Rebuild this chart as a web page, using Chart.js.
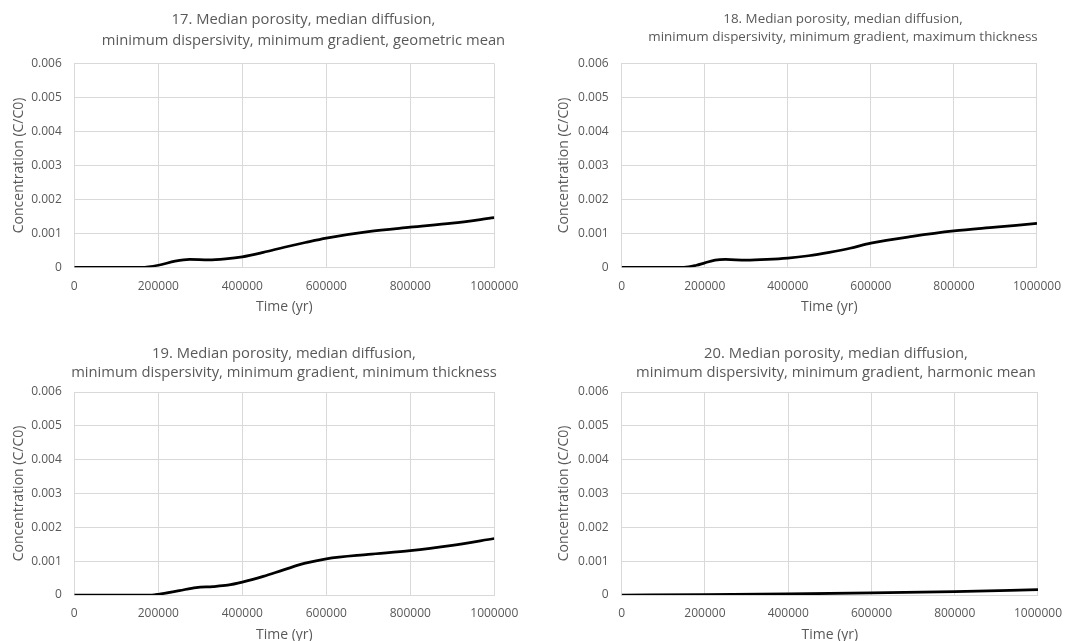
<!DOCTYPE html>
<html>
<head>
<meta charset="utf-8">
<script src="https://cdn.jsdelivr.net/npm/chart.js@4.4.1/dist/chart.umd.min.js"></script>
<style>
  html, body { margin: 0; padding: 0; background: #fff; overflow: hidden; }
  body { width: 1066px; height: 641px; position: relative; }
  canvas { position: absolute; }
</style>
</head>
<body>
<canvas id="c17" width="533" height="320" style="left:0;top:0"></canvas>
<canvas id="c18" width="540" height="320" style="left:533px;top:0"></canvas>
<canvas id="c19" width="533" height="330" style="left:0;top:320px"></canvas>
<canvas id="c20" width="540" height="330" style="left:533px;top:320px"></canvas>
<script>
// Data (time in years, concentration C/C0)
const time17 = [0, 160000, 200000, 240000, 275000, 320000, 360000, 400000, 450000, 500000, 550000, 600000, 700000, 800000, 900000, 1000000];
const conc17 = [0, 0, 0.00006, 0.00018, 0.00023, 0.00022, 0.00025, 0.00031, 0.00044, 0.00059, 0.00073, 0.00086, 0.00105, 0.00118, 0.0013, 0.00146];

const time18 = [0, 150000, 180000, 200000, 225000, 250000, 300000, 350000, 400000, 450000, 500000, 550000, 600000, 700000, 800000, 900000, 1000000];
const conc18 = [0, 0, 0.00006, 0.00013, 0.00021, 0.00023, 0.00021, 0.00023, 0.00027, 0.00034, 0.00044, 0.00056, 0.00071, 0.00091, 0.00107, 0.00118, 0.00129];

const time19 = [0, 185000, 200000, 250000, 290000, 330000, 365000, 400000, 450000, 500000, 550000, 600000, 700000, 800000, 900000, 1000000];
const conc19 = [0, 0, 0.00002, 0.00013, 0.00022, 0.00025, 0.00029, 0.00038, 0.00055, 0.00075, 0.00094, 0.00107, 0.0012, 0.00131, 0.00147, 0.00167];

const time20 = [0, 200000, 400000, 600000, 800000, 1000000];
const conc20 = [0, 0.00001, 0.00003, 0.00006, 0.0001, 0.00016];

// Axis ticks
const xTickValues = [0, 200000, 400000, 600000, 800000, 1000000];
const xTickLabels = ['0', '200000', '400000', '600000', '800000', '1000000'];
const yTickValues = [0, 0.001, 0.002, 0.003, 0.004, 0.005, 0.006];
const yTickLabels = ['0', '0.001', '0.002', '0.003', '0.004', '0.005', '0.006'];

// Titles
const title17 = ['17. Median porosity, median diffusion,', 'minimum dispersivity, minimum gradient, geometric mean'];
const title18 = ['18. Median porosity, median diffusion,', 'minimum dispersivity, minimum gradient, maximum thickness'];
const title19 = ['19. Median porosity, median diffusion,', 'minimum dispersivity, minimum gradient, minimum thickness'];
const title20 = ['20. Median porosity, median diffusion,', 'minimum dispersivity, minimum gradient, harmonic mean'];

const xAxisTitle = 'Time (yr)';
const yAxisTitle = 'Concentration (C/C0)';

const textColor = '#595959';
const gridColor = '#d9d9d9';
const fontFamily = "'Open Sans', sans-serif";

Chart.defaults.font.family = fontFamily;
Chart.defaults.color = textColor;

// two-line title, centred where the original puts it
const panelTitle = {
	id: 'panelTitle',
	afterDraw(chart, args, opts) {
		const ctx = chart.ctx;
		ctx.save();
		ctx.font = opts.size + 'px ' + fontFamily;
		ctx.fillStyle = textColor;
		ctx.textAlign = 'center';
		ctx.textBaseline = 'middle';
		opts.lines.forEach(function(t, i) {
			ctx.fillText(t, opts.x, opts.y[i]);
		});
		ctx.restore();
	}
};

function makePanel(id, times, values, title, g) {
	const points = times.map(function(t, i) { return { x: t, y: values[i] }; });
	return new Chart(document.getElementById(id), {
		type: 'scatter',
		data: {
			datasets: [{
				data: points,
				showLine: true,
				borderColor: '#000',
				borderWidth: 2.75,
				pointRadius: 0,
				cubicInterpolationMode: 'monotone',
				fill: false
			}]
		},
		options: {
			responsive: false,
			animation: false,
			devicePixelRatio: 1,
			events: [],
			layout: { padding: { left: 0, top: g.top, right: g.right, bottom: 0 } },
			plugins: {
				legend: { display: false },
				title: { display: false },
				tooltip: { enabled: false },
				panelTitle: { lines: title, x: g.titleX, y: g.titleY, size: g.titleSize }
			},
			scales: {
				x: {
					type: 'linear',
					min: 0,
					max: 1000000,
					afterBuildTicks: function(scale) {
						scale.ticks = xTickValues.map(function(v) { return { value: v }; });
					},
					afterFit: function(scale) { scale.height = g.xHeight; },
					grid: { color: gridColor, drawTicks: false },
					border: { color: gridColor },
					ticks: {
						autoSkip: false,
						maxRotation: 0,
						padding: g.xTickPad,
						font: { size: 12 },
						callback: function(v, i) { return xTickLabels[i]; }
					},
					title: {
						display: true,
						text: xAxisTitle,
						font: { size: 14 },
						padding: { top: 0, bottom: g.xTitlePad }
					}
				},
				y: {
					min: 0,
					max: 0.006,
					afterBuildTicks: function(scale) {
						scale.ticks = yTickValues.map(function(v) { return { value: v }; });
					},
					afterFit: function(scale) { scale.width = g.yWidth; },
					grid: { color: gridColor, drawTicks: false },
					border: { color: gridColor },
					ticks: {
						padding: g.yTickPad,
						font: { size: 12 },
						callback: function(v, i) { return yTickLabels[i]; }
					},
					title: {
						display: true,
						text: yAxisTitle,
						font: { size: 14 },
						padding: { top: g.yTitlePad, bottom: 0 }
					}
				}
			}
		},
		plugins: [panelTitle]
	});
}

makePanel('c17', time17, conc17, title17, {
	top: 63.5, right: 38.7, yWidth: 74.3, xHeight: 52.7,
	xTickPad: 12, xTitlePad: 4.1, yTickPad: 12.5, yTitlePad: 10.6,
	titleX: 303.5, titleY: [20, 40.7], titleSize: 14.75
});
makePanel('c18', time18, conc18, title18, {
	top: 63.5, right: 32, yWidth: 88.7, xHeight: 52.7,
	xTickPad: 12, xTitlePad: 4.1, yTickPad: 13, yTitlePad: 22.9,
	titleX: 310, titleY: [19.3, 37.3], titleSize: 13.4
});
makePanel('c19', time19, conc19, title19, {
	top: 72, right: 38.7, yWidth: 74.3, xHeight: 55,
	xTickPad: 11, xTitlePad: 6.6, yTickPad: 12.5, yTitlePad: 10.3,
	titleX: 284, titleY: [33.3, 52.7], titleSize: 14.75
});
makePanel('c20', time20, conc20, title20, {
	top: 72, right: 32, yWidth: 88.7, xHeight: 55,
	xTickPad: 11, xTitlePad: 6.6, yTickPad: 13, yTitlePad: 22.9,
	titleX: 303, titleY: [33.3, 52.7], titleSize: 14.75
});
</script>
</body>
</html>
